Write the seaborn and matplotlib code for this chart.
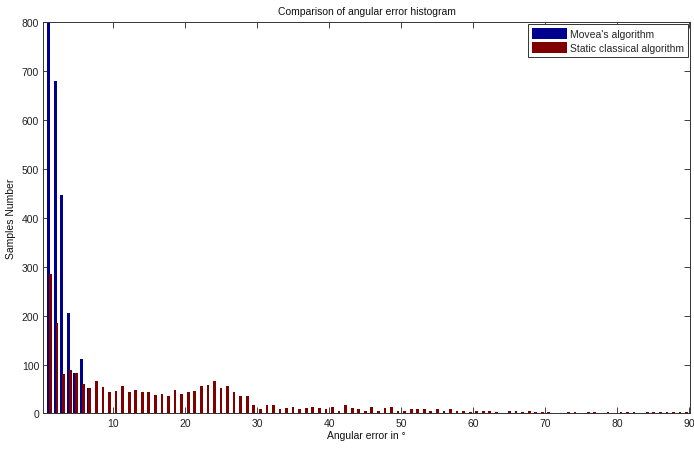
import numpy as np
import pandas as pd
import matplotlib
matplotlib.use("Agg")
import matplotlib.pyplot as plt
import seaborn as sns

# Histogram bins of the angular error (degrees)
bin_lo = 0.675
bin_width = 0.911
n_bins = 98

# Counts per bin for each algorithm
movea_counts = [798, 680, 446, 206, 82, 112, 52, 2] + [0] * 90

static_counts = [
    285, 185, 80, 89, 83, 60, 53, 66, 55, 44,
    46, 56, 44, 48, 44, 44, 37, 40, 35, 48,
    40, 44, 46, 56, 58, 66, 53, 56, 43, 36,
    36, 18, 10, 17, 17, 10, 12, 14, 10, 12,
    14, 12, 10, 14, 6, 18, 12, 10, 6, 13,
    6, 12, 13, 6, 6, 9, 9, 9, 6, 10,
    6, 9, 6, 6, 3, 6, 5, 5, 3, 0,
    5, 5, 4, 5, 3, 3, 4, 0, 0, 4,
    4, 0, 3, 3, 0, 3, 0, 3, 4, 3,
    0, 3, 3, 3, 3, 3, 3, 3,
]

series_names = ["Movea's algorithm", "Static classical algorithm"]
series_colors = ["#00008F", "#800000"]

y_ticks = list(range(0, 801, 100))
x_ticks = list(range(10, 91, 10))

centers = np.round(bin_lo + bin_width * (np.arange(n_bins) + 0.5), 4)

df = pd.DataFrame({
    "center": np.concatenate([centers, centers]),
    "count": movea_counts + static_counts,
    "series": [series_names[0]] * n_bins + [series_names[1]] * n_bins,
})

sns.set_theme(style="white")
plt.rcParams["font.family"] = ["Liberation Sans", "DejaVu Sans"]

fig = plt.figure(figsize=(6.94, 4.52), dpi=100)
ax = fig.add_axes([0.0624, 0.083, 0.9318, 0.866])

sns.barplot(
    data=df, x="center", y="count", hue="series",
    native_scale=True, dodge=True, width=0.57,
    palette=series_colors, hue_order=series_names,
    errorbar=None, saturation=1, linewidth=0,
    ax=ax,
)

# widen each bar around its own centre (grouped-bar look)
bar_w = 0.38
for p in ax.patches:
    cx = p.get_x() + p.get_width() / 2
    p.set_x(cx - bar_w / 2)
    p.set_width(bar_w)

ax.set_xlim(0.26, 90.1)
ax.set_ylim(0, 800)
ax.set_xticks(x_ticks)
ax.set_yticks(y_ticks)
ax.tick_params(axis="both", direction="in", length=4.3, width=0.6,
               labelsize=7.5, colors="#222222", top=True, right=True,
               bottom=True, left=True, pad=3)
for side in ax.spines.values():
    side.set_color("#333333")
    side.set_linewidth(0.7)

ax.set_title("Comparison of angular error histogram", fontsize=7.5, pad=6,
             color="#111111")
ax.set_xlabel("Angular error in °", fontsize=7.5, labelpad=2, color="#111111")
ax.set_ylabel("Samples Number", fontsize=7.5, labelpad=4, color="#111111")

handles, labels = ax.get_legend_handles_labels()
leg = ax.legend(handles, labels, loc="upper right", fontsize=7.5,
                frameon=True, fancybox=False, edgecolor="#333333",
                handlelength=3.3, handleheight=1.2, handletextpad=0.3,
                borderpad=0.4, labelspacing=0.3, borderaxespad=0.2,
                framealpha=1)
leg.get_frame().set_linewidth(0.7)
for h in leg.legend_handles:
    h.set_edgecolor("none")

fig.savefig("out.png", dpi=100, facecolor="white")
